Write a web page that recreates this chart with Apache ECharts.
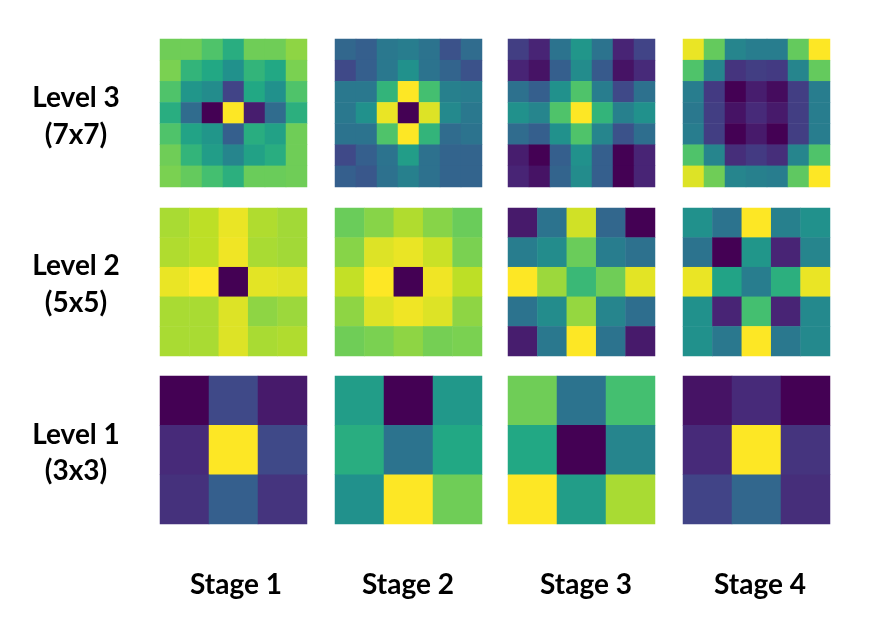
<!DOCTYPE html>
<html>
<head>
<meta charset="utf-8">
<script src="https://cdn.jsdelivr.net/npm/echarts@6/dist/echarts.min.js"></script>
<style>
  html, body { margin: 0; padding: 0; background: #fff; }
  #main { width: 872px; height: 640px; }
</style>
</head>
<body>
<div id="main"></div>
<script>
var stages = ['Stage 1', 'Stage 2', 'Stage 3', 'Stage 4'];
var levels = ['Level 3', 'Level 2', 'Level 1'];
var sizes = ['(7x7)', '(5x5)', '(3x3)'];

// kernel weights, normalised 0..1, row by row from the top
var l3s1 = [
  [0.78, 0.78, 0.72, 0.62, 0.78, 0.78, 0.83],
  [0.80, 0.65, 0.60, 0.50, 0.65, 0.60, 0.80],
  [0.72, 0.52, 0.48, 0.20, 0.60, 0.50, 0.72],
  [0.62, 0.35, 0.00, 1.00, 0.08, 0.35, 0.63],
  [0.72, 0.58, 0.52, 0.30, 0.62, 0.57, 0.78],
  [0.78, 0.65, 0.55, 0.45, 0.57, 0.62, 0.78],
  [0.80, 0.76, 0.70, 0.63, 0.77, 0.77, 0.78]
];
var l3s2 = [
  [0.33, 0.30, 0.40, 0.42, 0.38, 0.25, 0.35],
  [0.22, 0.30, 0.40, 0.50, 0.38, 0.32, 0.25],
  [0.40, 0.40, 0.65, 1.00, 0.70, 0.43, 0.42],
  [0.40, 0.50, 0.97, 0.00, 0.95, 0.47, 0.40],
  [0.38, 0.38, 0.72, 1.00, 0.65, 0.35, 0.38],
  [0.22, 0.30, 0.38, 0.55, 0.37, 0.32, 0.32],
  [0.30, 0.27, 0.37, 0.43, 0.37, 0.32, 0.32]
];
var l3s3 = [
  [0.18, 0.10, 0.38, 0.52, 0.38, 0.10, 0.20],
  [0.10, 0.05, 0.30, 0.48, 0.28, 0.05, 0.12],
  [0.37, 0.30, 0.50, 0.72, 0.42, 0.22, 0.37],
  [0.50, 0.45, 0.72, 1.00, 0.65, 0.43, 0.50],
  [0.35, 0.30, 0.50, 0.72, 0.45, 0.25, 0.36],
  [0.08, 0.00, 0.30, 0.50, 0.30, 0.00, 0.10],
  [0.10, 0.05, 0.32, 0.48, 0.30, 0.00, 0.10]
];
var l3s4 = [
  [0.97, 0.76, 0.45, 0.42, 0.42, 0.76, 1.00],
  [0.72, 0.45, 0.15, 0.18, 0.17, 0.45, 0.76],
  [0.42, 0.17, 0.00, 0.08, 0.03, 0.18, 0.42],
  [0.40, 0.18, 0.05, 0.12, 0.07, 0.18, 0.42],
  [0.42, 0.18, 0.00, 0.07, 0.00, 0.18, 0.42],
  [0.72, 0.45, 0.13, 0.17, 0.13, 0.45, 0.72],
  [0.95, 0.78, 0.45, 0.43, 0.42, 0.75, 1.00]
];
var l2s1 = [
  [0.87, 0.90, 0.97, 0.88, 0.86],
  [0.88, 0.90, 0.98, 0.87, 0.86],
  [0.97, 1.00, 0.00, 0.96, 0.95],
  [0.87, 0.87, 0.95, 0.83, 0.85],
  [0.87, 0.87, 0.95, 0.87, 0.88]
];
var l2s2 = [
  [0.77, 0.82, 0.88, 0.82, 0.77],
  [0.82, 0.95, 0.97, 0.92, 0.80],
  [0.91, 1.00, 0.00, 0.98, 0.90],
  [0.83, 0.95, 0.98, 0.95, 0.83],
  [0.78, 0.80, 0.83, 0.79, 0.80]
];
var l2s3 = [
  [0.07, 0.38, 0.93, 0.33, 0.00],
  [0.42, 0.48, 0.77, 0.42, 0.37],
  [1.00, 0.85, 0.67, 0.78, 0.96],
  [0.38, 0.48, 0.84, 0.45, 0.36],
  [0.08, 0.40, 1.00, 0.38, 0.07]
];
var l2s4 = [
  [0.50, 0.38, 1.00, 0.43, 0.50],
  [0.38, 0.00, 0.52, 0.10, 0.45],
  [0.97, 0.58, 0.42, 0.63, 0.97],
  [0.50, 0.10, 0.70, 0.10, 0.47],
  [0.50, 0.40, 1.00, 0.40, 0.47]
];
var l1s1 = [
  [0.00, 0.22, 0.07],
  [0.12, 1.00, 0.22],
  [0.14, 0.30, 0.15]
];
var l1s2 = [
  [0.55, 0.00, 0.53],
  [0.62, 0.38, 0.60],
  [0.50, 1.00, 0.78]
];
var l1s3 = [
  [0.78, 0.38, 0.70],
  [0.60, 0.00, 0.45],
  [1.00, 0.55, 0.87]
];
var l1s4 = [
  [0.05, 0.12, 0.00],
  [0.12, 1.00, 0.15],
  [0.20, 0.33, 0.13]
];

var kernels = [
  [l3s1, l3s2, l3s3, l3s4],
  [l2s1, l2s2, l2s3, l2s4],
  [l1s1, l1s2, l1s3, l1s4]
];

var viridis = ['#440154', '#482475', '#414487', '#355f8d', '#2a788e', '#21918c',
               '#22a884', '#44bf70', '#7ad151', '#bddf26', '#fde725'];

var colLeft = [160, 335, 508, 683];
var rowTop = [39, 208, 376];
var boxW = 147, boxH = 148;

var grids = [], xAxes = [], yAxes = [], series = [];
var idx = 0;
for (var r = 0; r < kernels.length; r++) {
  for (var c = 0; c < kernels[r].length; c++) {
    var k = kernels[r][c];
    var n = k.length;
    var cats = [];
    for (var i = 0; i < n; i++) cats.push(String(i));
    var data = [];
    for (var y = 0; y < n; y++) {
      for (var x = 0; x < n; x++) {
        data.push([x, y, k[y][x]]);
      }
    }
    grids.push({ left: colLeft[c], top: rowTop[r], width: boxW, height: boxH });
    xAxes.push({ type: 'category', data: cats, gridIndex: idx, show: false });
    yAxes.push({ type: 'category', data: cats, gridIndex: idx, show: false, inverse: true });
    series.push({
      type: 'heatmap',
      xAxisIndex: idx,
      yAxisIndex: idx,
      data: data,
      itemStyle: { borderWidth: 0 },
      emphasis: { disabled: true }
    });
    idx++;
  }
}

var textStyle = { font: 'bold 28px Lato', fill: '#000', textAlign: 'center', textVerticalAlign: 'middle' };
var graphics = [];
var levelY = [[98, 135], [266, 303], [435, 471]];
for (var r = 0; r < levels.length; r++) {
  graphics.push({ type: 'text', x: 76, y: levelY[r][0], style: Object.assign({ text: levels[r] }, textStyle) });
  graphics.push({ type: 'text', x: 76, y: levelY[r][1], style: Object.assign({ text: sizes[r] }, textStyle) });
}
var stageX = [236, 408, 586, 760];
for (var c = 0; c < stages.length; c++) {
  graphics.push({ type: 'text', x: stageX[c], y: 585, style: Object.assign({ text: stages[c] }, textStyle) });
}

var chart = echarts.init(document.getElementById('main'));
chart.setOption({
  backgroundColor: '#fff',
  animation: false,
  grid: grids,
  xAxis: xAxes,
  yAxis: yAxes,
  visualMap: {
    show: false,
    min: 0,
    max: 1,
    dimension: 2,
    inRange: { color: viridis }
  },
  series: series,
  graphic: graphics
});
</script>
</body>
</html>
